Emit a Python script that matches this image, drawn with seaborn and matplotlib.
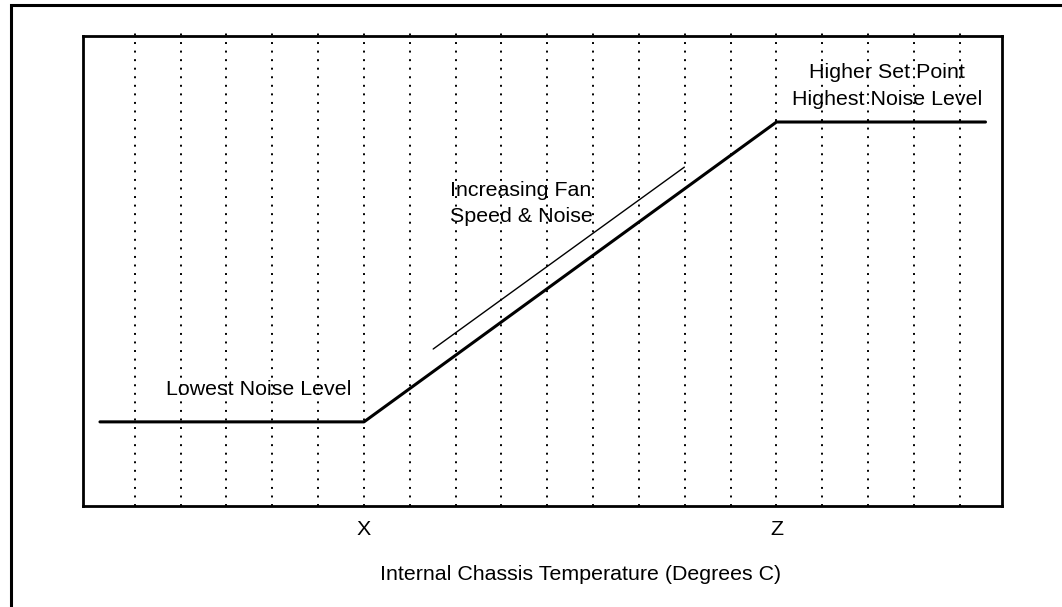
import numpy as np
import pandas as pd
import matplotlib
matplotlib.use('Agg')
import matplotlib.pyplot as plt
import seaborn as sns
from matplotlib.patches import Rectangle

# podaci ocitani sa slike (x u jedinicama mreze, y u % visine)
curve_x = [-0.76, 5.0, 14.0, 18.56]
curve_y = [17.9, 17.9, 81.7, 81.7]
arrow_x = [6.51, 11.99]
arrow_y = [33.4, 72.1]
grid_x = list(range(19))
tick_pos = [5, 14]
tick_labels = ['X', 'Z']

sns.set_style('white')
plt.rcParams['font.family'] = ['Liberation Sans', 'DejaVu Sans']
plt.rcParams['text.color'] = 'black'
plt.rcParams['xtick.color'] = 'black'
plt.rcParams['axes.labelcolor'] = 'black'

fs = 15.4
fig = plt.figure(figsize=(10.62, 6.07), dpi=100)
ax = fig.add_axes([83 / 1062, 1 - 506 / 607, 919 / 1062, 470 / 607])

# vanjski okvir (vidljivi samo lijevi i gornji rub)
fig.patches.append(Rectangle((11 / 1062, -0.1), 1.2, 1.1 - 5 / 607, transform=fig.transFigure,
                             fill=False, lw=2.2, ec='black', zorder=0))

ax.vlines(grid_x, 0, 100.8, colors='black', linestyles=(0, (1, 3.4)), lw=1.4, clip_on=False)

curve = pd.DataFrame({'x': curve_x, 'y': curve_y})
sns.lineplot(data=curve, x='x', y='y', color='black', lw=2.2, ax=ax)
thin = pd.DataFrame({'x': arrow_x, 'y': arrow_y})
sns.lineplot(data=thin, x='x', y='y', color='black', lw=1.0, ax=ax)

ax.set_xlim(-1.13, 18.92)
ax.set_ylim(0, 100)
ax.set_xticks(tick_pos)
ax.set_xticklabels(tick_labels, fontsize=fs)
ax.set_yticks([])
ax.tick_params(axis='x', length=0, pad=10)
ax.set_xlabel('Internal Chassis Temperature (Degrees C)', fontsize=fs)
ax.xaxis.set_label_coords((581 - 83) / 919, -(575 - 506) / 470)
ax.xaxis.label.set_va('center')
ax.set_ylabel('')
for s in ax.spines.values():
    s.set_color('black')
    s.set_linewidth(2.0)

ax.text(2.71, 24.7, 'Lowest Noise Level', fontsize=fs, ha='center', va='center')
ax.text(6.88, 67.2, 'Increasing Fan', fontsize=fs, ha='left', va='center')
ax.text(6.88, 61.5, 'Speed & Noise', fontsize=fs, ha='left', va='center')
ax.text(16.42, 92.3, 'Higher Set Point', fontsize=fs, ha='center', va='center')
ax.text(16.42, 86.4, 'Highest Noise Level', fontsize=fs, ha='center', va='center')

fig.savefig('out.png', dpi=100)
